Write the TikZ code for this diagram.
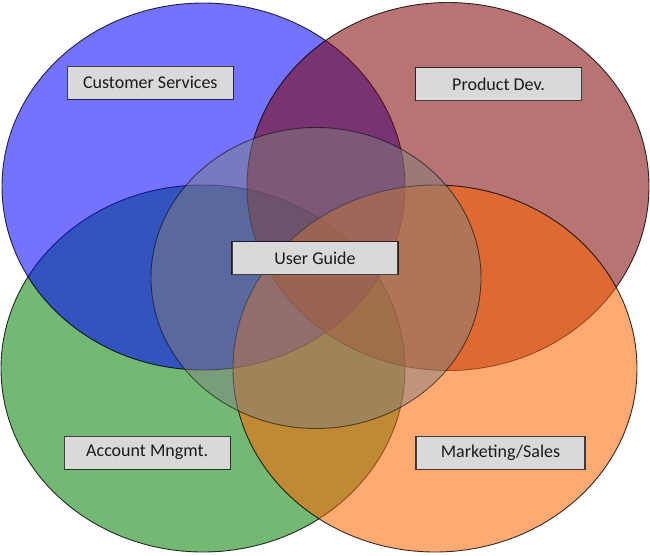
\documentclass[tikz,border=0pt]{standalone}
\usepackage{fontspec}
\setmainfont{Carlito}
\definecolor{cblue}{RGB}{0,0,255}
\definecolor{cred}{RGB}{127,0,0}
\definecolor{cgreen}{RGB}{0,128,0}
\definecolor{corange}{RGB}{255,100,0}
\definecolor{cgrey}{RGB}{128,128,128}
\definecolor{boxfill}{RGB}{217,217,217}
\definecolor{txt}{RGB}{26,26,26}
\begin{document}
\begin{tikzpicture}[x=1pt,y=-1pt,
  venn/.style={fill opacity=0.55,draw=black,draw opacity=0.8,line width=0.9pt},
  label/.style={draw=black,draw opacity=0.7,line width=1.1pt,fill=boxfill,minimum width=166pt,minimum height=33pt,
    inner sep=0pt,text=txt,font=\fontsize{18}{21}\selectfont}]
\useasboundingbox (0,0) rectangle (650,555);
\fill[white] (0,0) rectangle (650,555);
\path[venn,fill=cgreen] (203,368.5) ellipse [x radius=202,y radius=183.5];
\path[venn,fill=cblue] (203.5,186.5) ellipse [x radius=201.5,y radius=183.5];
\path[venn,fill=cred] (448,186.5) ellipse [x radius=201,y radius=184];
\path[venn,fill=corange] (435,368.5) ellipse [x radius=202,y radius=183.5];
\path[venn,fill=cgrey,fill opacity=0.5,draw opacity=0.55] (316,278) ellipse [x radius=165,y radius=150.5];
\node[label] (cs) at (150.3,82.7) {Customer Services};
\node[label] (pd) at (498.5,84.3) {Product Dev.};
\node[label] (ug) at (315,258.3) {User Guide};
\node[label] (am) at (147.2,452.7) {Account Mngmt.};
\node[label,minimum width=169pt] (ms) at (500.5,452.7) {Marketing/Sales};
\end{tikzpicture}
\end{document}
